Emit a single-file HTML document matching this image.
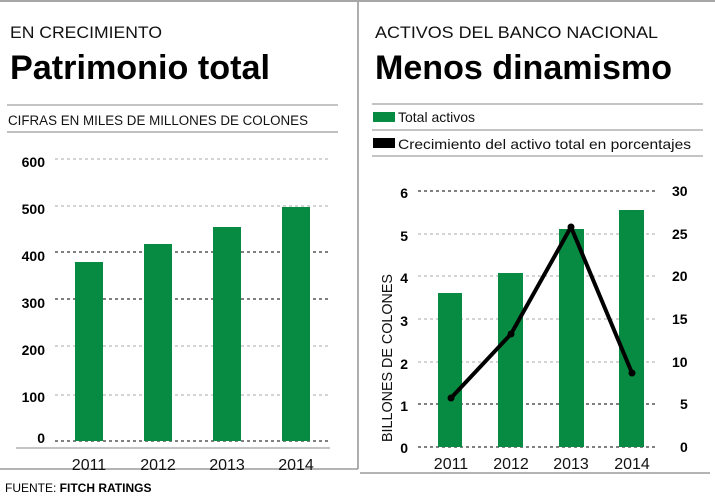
<!DOCTYPE html>
<html><head><meta charset="utf-8"><style>
body{margin:0;background:#fff}
svg{display:block;font-family:"Liberation Sans",Arial,sans-serif}
</style></head><body>
<svg width="715" height="500" viewBox="0 0 715 500" xmlns="http://www.w3.org/2000/svg">
<rect width="715" height="500" fill="#fff"/>
<line x1="0" y1="1" x2="715" y2="1" stroke="#888" stroke-width="1.5"/>
<line x1="358" y1="2" x2="358" y2="469" stroke="#777" stroke-width="1.2"/>
<line x1="0" y1="469" x2="358" y2="469" stroke="#888" stroke-width="1.2"/>
<line x1="360" y1="473" x2="710" y2="473" stroke="#888" stroke-width="1.2"/>

<!-- Left -->
<text x="10" y="38" font-size="17" fill="#111" textLength="152" lengthAdjust="spacingAndGlyphs">EN CRECIMIENTO</text>
<text x="10" y="79" font-size="34" font-weight="bold" fill="#000" textLength="260" lengthAdjust="spacingAndGlyphs">Patrimonio total</text>
<line x1="7" y1="105" x2="338" y2="105" stroke="#888"/>
<text x="8" y="125" font-size="13.5" fill="#111" textLength="300" lengthAdjust="spacingAndGlyphs">CIFRAS EN MILES DE MILLONES DE COLONES</text>
<line x1="7" y1="132" x2="338" y2="132" stroke="#aaa" stroke-width="1.5"/>
<g stroke-dasharray="3,3" stroke-width="1">
<line x1="55" y1="159" x2="330" y2="159" stroke="#aaa"/>
<line x1="55" y1="206" x2="330" y2="206" stroke="#aaa"/>
<line x1="55" y1="252" x2="330" y2="252" stroke="#000"/>
<line x1="55" y1="299" x2="330" y2="299" stroke="#000"/>
<line x1="55" y1="346" x2="330" y2="346" stroke="#aaa"/>
<line x1="55" y1="395" x2="330" y2="395" stroke="#aaa"/>
<line x1="55" y1="441" x2="330" y2="441" stroke="#000"/>
</g>
<g fill="#078a42">
<rect x="75" y="262" width="28" height="179"/>
<rect x="144" y="244" width="28" height="197"/>
<rect x="213" y="227" width="28" height="214"/>
<rect x="282" y="207" width="28" height="234"/>
</g>
<line x1="16" y1="448" x2="330" y2="448" stroke="#888"/>
<g font-size="14" font-weight="bold" fill="#000" text-anchor="end">
<text x="45" y="167">600</text><text x="45" y="214">500</text><text x="45" y="261">400</text>
<text x="45" y="308">300</text><text x="45" y="355">200</text><text x="45" y="402">100</text><text x="45" y="443">0</text>
</g>
<g font-size="16" fill="#111" text-anchor="middle">
<text x="89" y="470">2011</text><text x="158" y="470">2012</text><text x="227" y="470">2013</text><text x="296" y="470">2014</text>
</g>
<text x="5" y="492" font-size="12" fill="#000">FUENTE: <tspan font-weight="bold">FITCH RATINGS</tspan></text>

<!-- Right -->
<text x="375" y="38" font-size="17" fill="#111" textLength="283" lengthAdjust="spacingAndGlyphs">ACTIVOS DEL BANCO NACIONAL</text>
<text x="375" y="79" font-size="34" font-weight="bold" fill="#000" textLength="297" lengthAdjust="spacingAndGlyphs">Menos dinamismo</text>
<line x1="372" y1="104" x2="703" y2="104" stroke="#888"/>
<rect x="373" y="112" width="22" height="10" fill="#078a42"/>
<text x="398" y="122" font-size="14" fill="#111">Total activos</text>
<line x1="372" y1="130" x2="703" y2="130" stroke="#888"/>
<rect x="373" y="138" width="22" height="10" fill="#000"/>
<text x="398" y="149" font-size="14" fill="#111" textLength="293" lengthAdjust="spacingAndGlyphs">Crecimiento del activo total en porcentajes</text>
<line x1="372" y1="156" x2="703" y2="156" stroke="#888"/>
<g stroke-dasharray="3,3" stroke-width="1">
<line x1="418" y1="191" x2="658" y2="191" stroke="#000"/>
<line x1="418" y1="234" x2="658" y2="234" stroke="#aaa"/>
<line x1="418" y1="276" x2="658" y2="276" stroke="#aaa"/>
<line x1="418" y1="319" x2="658" y2="319" stroke="#aaa"/>
<line x1="418" y1="362" x2="658" y2="362" stroke="#aaa"/>
<line x1="418" y1="404" x2="658" y2="404" stroke="#000"/>
<line x1="418" y1="447" x2="658" y2="447" stroke="#000"/>
</g>
<g fill="#078a42">
<rect x="438" y="293" width="24" height="154"/>
<rect x="498" y="273" width="25" height="174"/>
<rect x="559" y="229" width="25" height="218"/>
<rect x="619" y="210" width="25" height="237"/>
</g>
<polyline points="451,398 511,334 571,227 632,373" fill="none" stroke="#000" stroke-width="4" stroke-linejoin="round"/>
<g fill="#000"><circle cx="451" cy="398" r="3.5"/><circle cx="511" cy="334" r="3.5"/><circle cx="571" cy="227" r="3.5"/><circle cx="632" cy="373" r="3.5"/></g>
<g font-size="14" font-weight="bold" fill="#000" text-anchor="end">
<text x="408" y="198">6</text><text x="408" y="241">5</text><text x="408" y="283">4</text><text x="408" y="326">3</text>
<text x="408" y="369">2</text><text x="408" y="411">1</text><text x="408" y="453">0</text>
</g>
<g font-size="14" font-weight="bold" fill="#000" text-anchor="start">
<text x="672" y="196">30</text><text x="672" y="239">25</text><text x="672" y="281">20</text><text x="672" y="324">15</text>
<text x="672" y="367">10</text><text x="680" y="409">5</text><text x="680" y="452">0</text>
</g>
<text transform="translate(392,442) rotate(-90)" font-size="15" fill="#111" textLength="168" lengthAdjust="spacingAndGlyphs">BILLONES DE COLONES</text>
<g font-size="16" fill="#111" text-anchor="middle">
<text x="451" y="469">2011</text><text x="511" y="469">2012</text><text x="571" y="469">2013</text><text x="632" y="469">2014</text>
</g>
</svg>
</body></html>
